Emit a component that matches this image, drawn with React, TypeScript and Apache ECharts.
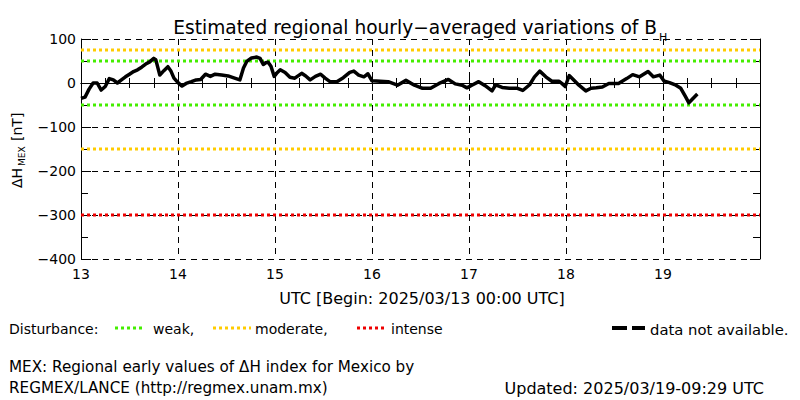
import React, { useEffect, useRef } from "react";
import * as echarts from "echarts";

// hours since 2025/03/13 00:00 UTC
const hours = [
  0, 1, 2, 3, 4, 5, 6, 7, 8, 9, 10, 11, 12, 13, 14, 15, 16, 17, 18, 18.5, 19.5, 20.5, 21.5, 22.2, 23, 24,
  25, 26, 27.3, 28.5, 29.6, 30.8, 32, 33.2, 34.8, 36.4, 38, 39.3, 40.2, 41, 42.2, 43.5, 44.3, 45.1,
  45.7, 46.3, 47, 47.8, 48.4, 49.3, 50.5, 51.7, 52.9, 54.6, 55.6, 56.7, 58, 59.3, 60.4, 61.6, 63.3,
  64.9, 66.5, 67.5, 68.7, 70, 71, 72, 74, 76, 78.3, 80.4, 82.5, 84.5, 86.5, 88.6, 90.9, 92.6, 94.3,
  95.5, 96.7, 98.4, 100, 101.7, 102.6, 104.2, 106, 108, 109.3, 111, 112.2, 113.5, 115, 116.5, 118.3,
  119.1, 119.8, 120.8, 122.1, 123.2, 124.9, 126.2, 127.5, 129, 130.6, 133, 135, 136.5, 138.2, 140.3,
  141.6, 143.2, 144.2, 145.6, 147.2, 148.4, 149.5, 150.4, 152.5,
];
// Delta H (nT)
const values = [
  -35, -32, -14, 0, 0, -16, -8, 10, 7, 0, 7, 14, 20, 26, 30, 36, 43, 48, 56, 53, 18, 28, 37, 28, 11, 1,
  -7, -1, 3, 7, 8, 20, 15, 20, 18, 16, 11, 7, 34, 49, 57, 59, 56, 42,
  46, 47, 38, 15, 22, 30, 24, 13, 11, 22, 16, 7, 15, 20, 11, 3, 3,
  12, 24, 27, 18, 14, 21, 5, 4, 3, -5, 6, -5, -12, -12, -1, 8, -2, -5,
  -11, -5, 3, -6, -18, -4, -10, -12, -12, -17, -4, 14, 27, 14, 4, 4,
  -2, -8, 17, 5, -5, -18, -12, -11, -9, -1, -1, 10, 19, 14, 26,
  14, 18, 5, 1, -5, -12, -30, -45, -25,
];

const weakLevels = [50, -50];
const moderateLevels = [75, -150];
const intenseLevels = [-300];

const xStartDay = 13;
const xEndDay = 20;
const xTickLabels = ["13", "14", "15", "16", "17", "18", "19"];

const FONT = "DejaVu Sans";
const GREEN = "#44ee00";
const ORANGE = "#ffcc00";
const RED = "#ee0000";

export default function App() {
  const ref = useRef<HTMLDivElement>(null);

  useEffect(() => {
    if (!ref.current) return;
    const chart = echarts.init(ref.current, undefined, { renderer: "svg" });

    const lineData = hours.map((h, i) => [xStartDay + h / 24, values[i]]);

    const levelSeries = (levels: number[], color: string) =>
      levels.map((v) => ({
        type: "line",
        data: [
          [xStartDay, v],
          [xEndDay, v],
        ],
        showSymbol: false,
        silent: true,
        z: 2,
        lineStyle: { color, width: 3, type: [3, 3] },
      }));

    const black = { color: "#000", width: 1 };
    const labelStyle = { color: "#000", fontFamily: FONT, fontSize: 14 };
    const txt = (text: string, x: number, y: number, fontSize: number, align = "left") => ({
      type: "text",
      x,
      y,
      style: { text, fontFamily: FONT, fontSize, fill: "#000", textAlign: align, textVerticalAlign: "middle" },
    });

    chart.setOption({
      animation: false,
      backgroundColor: "#fff",
      grid: { left: 81, right: 40, top: 39, bottom: 141, outerBoundsMode: "none" },
      xAxis: [
        {
          type: "value",
          min: xStartDay,
          max: xEndDay,
          interval: 1,
          position: "bottom",
          axisLine: { show: true, lineStyle: black },
          axisTick: { show: true, inside: true, length: 8, lineStyle: black },
          minorTick: { show: true, splitNumber: 4, length: 5, lineStyle: black },
          splitLine: { show: true, lineStyle: { color: "#000", width: 1, type: [6, 5] } },
          axisLabel: {
            ...labelStyle,
            margin: 8,
            formatter: (v: number) => xTickLabels[Math.round(v - xStartDay)] ?? "",
          },
        },
        {
          type: "value",
          min: xStartDay,
          max: xEndDay,
          interval: 1,
          position: "top",
          axisLine: { show: true, lineStyle: black },
          axisTick: { show: true, inside: true, length: 8, lineStyle: black },
          minorTick: { show: true, splitNumber: 4, length: 5, lineStyle: black },
          splitLine: { show: false },
          axisLabel: { show: false },
        },
      ],
      yAxis: [
        {
          type: "value",
          min: -400,
          max: 100,
          interval: 100,
          position: "left",
          axisLine: { show: true, lineStyle: black },
          axisTick: { show: true, inside: true, length: 10, lineStyle: black },
          minorTick: { show: true, splitNumber: 2, length: 7, lineStyle: black },
          splitLine: { show: true, lineStyle: { color: "#000", width: 1, type: [6, 5] } },
          axisLabel: {
            ...labelStyle,
            margin: 5,
            formatter: (v: number) => (v < 0 ? "\u2212" + Math.abs(v) : String(v)),
          },
        },
        {
          type: "value",
          min: -400,
          max: 100,
          interval: 100,
          position: "right",
          axisLine: { show: true, lineStyle: black },
          axisTick: { show: true, inside: true, length: 10, lineStyle: black },
          minorTick: { show: true, splitNumber: 2, length: 7, lineStyle: black },
          splitLine: { show: false },
          axisLabel: { show: false },
        },
      ],
      series: [
        ...levelSeries(weakLevels, GREEN),
        ...levelSeries(moderateLevels, ORANGE),
        ...levelSeries(intenseLevels, RED),
        {
          type: "line",
          data: lineData,
          showSymbol: false,
          z: 5,
          lineStyle: { color: "#000", width: 3.5, join: "round" },
        },
      ],
      graphic: [
        txt("Estimated regional hourly\u2212averaged variations of B", 657, 27, 18.6, "right"),
        txt("H", 659, 37, 11),
        {
          type: "text",
          x: 17,
          y: 168,
          rotation: Math.PI / 2,
          style: { text: "\u0394H", fontFamily: FONT, fontSize: 14, fill: "#000", textAlign: "right", textVerticalAlign: "middle" },
        },
        {
          type: "text",
          x: 22,
          y: 166,
          rotation: Math.PI / 2,
          style: { text: "MEX", fontFamily: FONT, fontSize: 9, fill: "#000", textAlign: "left", textVerticalAlign: "middle" },
        },
        {
          type: "text",
          x: 17,
          y: 141,
          rotation: Math.PI / 2,
          style: { text: "[nT]", fontFamily: FONT, fontSize: 14, fill: "#000", textAlign: "left", textVerticalAlign: "middle" },
        },
        txt("UTC [Begin: 2025/03/13 00:00 UTC]", 422, 298, 16, "center"),
        // legend row
        txt("Disturbance:", 9, 329, 14),
        { type: "line", shape: { x1: 115, y1: 328, x2: 145, y2: 328 }, style: { stroke: GREEN, lineWidth: 3, lineDash: [3, 3] } },
        txt("weak,", 153, 329, 14),
        { type: "line", shape: { x1: 213, y1: 328, x2: 251, y2: 328 }, style: { stroke: ORANGE, lineWidth: 3, lineDash: [3, 3] } },
        txt("moderate,", 255, 329, 14),
        { type: "line", shape: { x1: 357, y1: 328, x2: 386, y2: 328 }, style: { stroke: RED, lineWidth: 3, lineDash: [3, 3] } },
        txt("intense", 391, 329, 14),
        { type: "line", shape: { x1: 612, y1: 328, x2: 645, y2: 328 }, style: { stroke: "#000", lineWidth: 4, lineDash: [15, 5] } },
        txt("data not available.", 650, 329, 14.8),
        txt("MEX: Regional early values of \u0394H index for Mexico by", 9, 367, 15.2),
        txt("REGMEX/LANCE (http://regmex.unam.mx)", 9, 388, 15.2),
        txt("Updated: 2025/03/19-09:29 UTC", 764, 388, 16, "right"),
      ],
    });

    return () => chart.dispose();
  }, []);

  return (
    <div
      ref={ref}
      style={{ position: "fixed", left: 0, top: 0, width: 800, height: 400, background: "#fff" }}
    />
  );
}
